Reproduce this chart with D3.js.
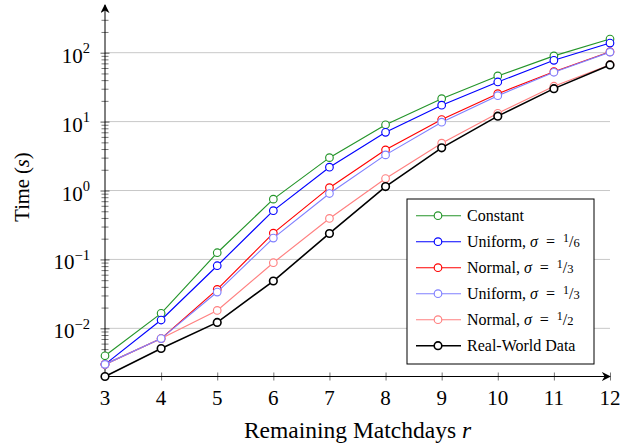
<!DOCTYPE html>
<html><head><meta charset="utf-8">
<script src="https://cdn.jsdelivr.net/npm/d3@7"></script>
<style>
body{margin:0;background:#fff}
svg{display:block}
text{font-family:"Liberation Serif","DejaVu Serif",serif;fill:#000}
</style>
</head><body>
<svg id="c" width="621" height="446"></svg>
<script>
// ---- data ----
const rounds = [3, 4, 5, 6, 7, 8, 9, 10, 11, 12];
const constant  = [0.004, 0.0165, 0.125, 0.75, 3.0, 9.0, 21.5, 46, 90, 158];
const uniform16 = [0.003, 0.0132, 0.081, 0.51, 2.18, 7.0, 17.3, 37.6, 77.6, 138];
const normal13  = [0.003, 0.0071, 0.0367, 0.241, 1.10, 3.89, 10.7, 25.4, 53, 103];
const uniform13 = [0.003, 0.0071, 0.0336, 0.204, 0.905, 3.29, 9.8, 23.8, 52, 102];
const normal12  = [0.003, 0.0071, 0.0182, 0.0895, 0.393, 1.49, 4.86, 13.2, 32.6, 67];
const realWorld = [0.002, 0.0051, 0.0122, 0.0486, 0.238, 1.14, 4.16, 12.0, 30.1, 66.4];

const legendNames = ["Constant", "Uniform", "Normal", "Uniform", "Normal", "Real-World Data"];
const sigmaNum = [null, 1, 1, 1, 1, null];
const sigmaDen = [null, 6, 3, 3, 2, null];

const xTicks = [3, 4, 5, 6, 7, 8, 9, 10, 11, 12];
const yTickExponents = [-2, -1, 0, 1, 2];
const xLabel = "Remaining Matchdays ";
const xLabelVar = "r";
const yLabel = "Time (";
const yLabelVar = "s";

// ---- styles ----
const seriesData = [constant, uniform16, normal13, uniform13, normal12, realWorld];
const colors = ["#24952a", "#0000ff", "#ff0000", "#8080ff", "#ff8080", "#000000"];
const widths = [1.15, 1.15, 1.15, 1.15, 1.15, 1.6];
const drawOrder = [0, 1, 2, 4, 3, 5];

const svg = d3.select("#c");
const x = d3.scaleLinear().domain([3, 12]).range([105, 610]);
const y = d3.scaleLog().domain([0.002, 100]).range([376.5, 52.7]);
const yMaxTick = 300;

// gridlines
const majors = yTickExponents.map(e => Math.pow(10, e));
svg.append("g").selectAll("line").data(majors).join("line")
  .attr("x1", x(3)).attr("x2", x(12))
  .attr("y1", d => y(d)).attr("y2", d => y(d))
  .attr("stroke", "#c8c8c8").attr("stroke-width", 1);

// minor ticks
const minors = [];
for (let e = -3; e <= 2; e++) for (let k = 2; k <= 9; k++) {
  const v = k * Math.pow(10, e);
  if (v >= 0.002 - 1e-12 && v <= yMaxTick + 1e-9) minors.push(v);
}

// y axis
const yAxis = d3.axisLeft(y).tickValues(majors).tickSize(4.5).tickFormat("");
const gy = svg.append("g").attr("transform", `translate(${x(3)},0)`).call(yAxis);
gy.select(".domain").remove();
gy.selectAll(".tick line").attr("x2", -4.5).attr("x1", 4.5).attr("stroke", "#444").attr("stroke-width", 0.9);
const yAxisMinor = d3.axisLeft(y).tickValues(minors).tickSize(3.5).tickFormat("");
const gym = svg.append("g").attr("transform", `translate(${x(3)},0)`).call(yAxisMinor);
gym.select(".domain").remove();
gym.selectAll(".tick line").attr("x2", -3.5).attr("x1", 3.5).attr("stroke", "#555").attr("stroke-width", 0.8);

// y tick labels
const yl = svg.append("g");
yTickExponents.forEach(e => {
  const t = yl.append("text").attr("x", 90).attr("y", y(Math.pow(10, e)) + 10)
    .attr("text-anchor", "end").attr("font-size", 21);
  t.append("tspan").text("10");
  t.append("tspan").attr("font-size", 14.5).attr("dy", -9.3)
    .text(e < 0 ? "\u2212" + Math.abs(e) : String(e));
});

// x axis
const xAxis = d3.axisBottom(x).tickValues(xTicks).tickSize(4).tickFormat("");
const gx = svg.append("g").attr("transform", `translate(0,${y(0.002)})`).call(xAxis);
gx.select(".domain").remove();
gx.selectAll(".tick line").attr("y1", -4).attr("y2", 4).attr("stroke", "#666").attr("stroke-width", 0.9);
svg.append("g").selectAll("text").data(xTicks).join("text")
  .attr("x", d => x(d)).attr("y", 405).attr("text-anchor", "middle").attr("font-size", 21)
  .text(d => d);

// axis lines with arrows
const defs = svg.append("defs");
defs.append("marker").attr("id", "arr").attr("viewBox", "0 0 10 10").attr("refX", 9).attr("refY", 5)
  .attr("markerWidth", 9).attr("markerHeight", 9).attr("markerUnits", "userSpaceOnUse")
  .attr("orient", "auto")
  .append("path").attr("d", "M0,0 L10,5 L0,10 L3,5 Z").attr("fill", "#000");
svg.append("line").attr("x1", x(3)).attr("x2", x(12)).attr("y1", y(0.002)).attr("y2", y(0.002))
  .attr("stroke", "#000").attr("stroke-width", 1).attr("marker-end", "url(#arr)");
svg.append("line").attr("x1", x(3)).attr("x2", x(3)).attr("y1", y(0.002)).attr("y2", 5)
  .attr("stroke", "#000").attr("stroke-width", 1).attr("marker-end", "url(#arr)");

// series
const line = d3.line().x((d, i) => x(rounds[i])).y(d => y(d));
drawOrder.forEach(si => {
  const g = svg.append("g");
  g.append("path").datum(seriesData[si]).attr("d", line)
    .attr("fill", "none").attr("stroke", colors[si]).attr("stroke-width", widths[si]);
  g.selectAll("circle").data(seriesData[si]).join("circle")
    .attr("cx", (d, i) => x(rounds[i])).attr("cy", d => y(d)).attr("r", 3.8)
    .attr("fill", "#fff").attr("stroke", colors[si]).attr("stroke-width", si === 5 ? 1.6 : 1.15);
});

// axis labels
const xl = svg.append("text").attr("x", (x(3) + x(12)) / 2).attr("y", 438)
  .attr("text-anchor", "middle").attr("font-size", 23.5);
xl.append("tspan").text(xLabel);
xl.append("tspan").attr("font-style", "italic").text(xLabelVar);

const ylab = svg.append("text").attr("transform", "translate(29,187) rotate(-90)")
  .attr("text-anchor", "middle").attr("font-size", 20.5);
ylab.append("tspan").text(yLabel);
ylab.append("tspan").attr("font-style", "italic").text(yLabelVar);
ylab.append("tspan").text(")");

// legend
const lg = svg.append("g");
lg.append("rect").attr("x", 407).attr("y", 199).attr("width", 187).attr("height", 165)
  .attr("fill", "#fff").attr("stroke", "#000").attr("stroke-width", 1);
legendNames.forEach((name, i) => {
  const cy = 215.7 + 26 * i;
  lg.append("line").attr("x1", 416).attr("x2", 461).attr("y1", cy).attr("y2", cy)
    .attr("stroke", colors[i]).attr("stroke-width", widths[i]);
  lg.append("circle").attr("cx", 438).attr("cy", cy).attr("r", 3.8)
    .attr("fill", "#fff").attr("stroke", colors[i]).attr("stroke-width", i === 5 ? 1.6 : 1.15);
  const t = lg.append("text").attr("x", 467).attr("y", cy + 5.2).attr("font-size", 16);
  if (sigmaNum[i] === null) {
    t.text(name);
  } else {
    t.append("tspan").text(name + ", ");
    t.append("tspan").attr("font-style", "italic").text("\u03C3");
    t.append("tspan").attr("xml:space", "preserve").text("  =  ");
    t.append("tspan").attr("font-size", 12).attr("dy", -4.5).text(sigmaNum[i]);
    t.append("tspan").attr("dy", 4.5).text("/");
    t.append("tspan").attr("font-size", 12.5).text(sigmaDen[i]);
  }
});
</script>
</body></html>
